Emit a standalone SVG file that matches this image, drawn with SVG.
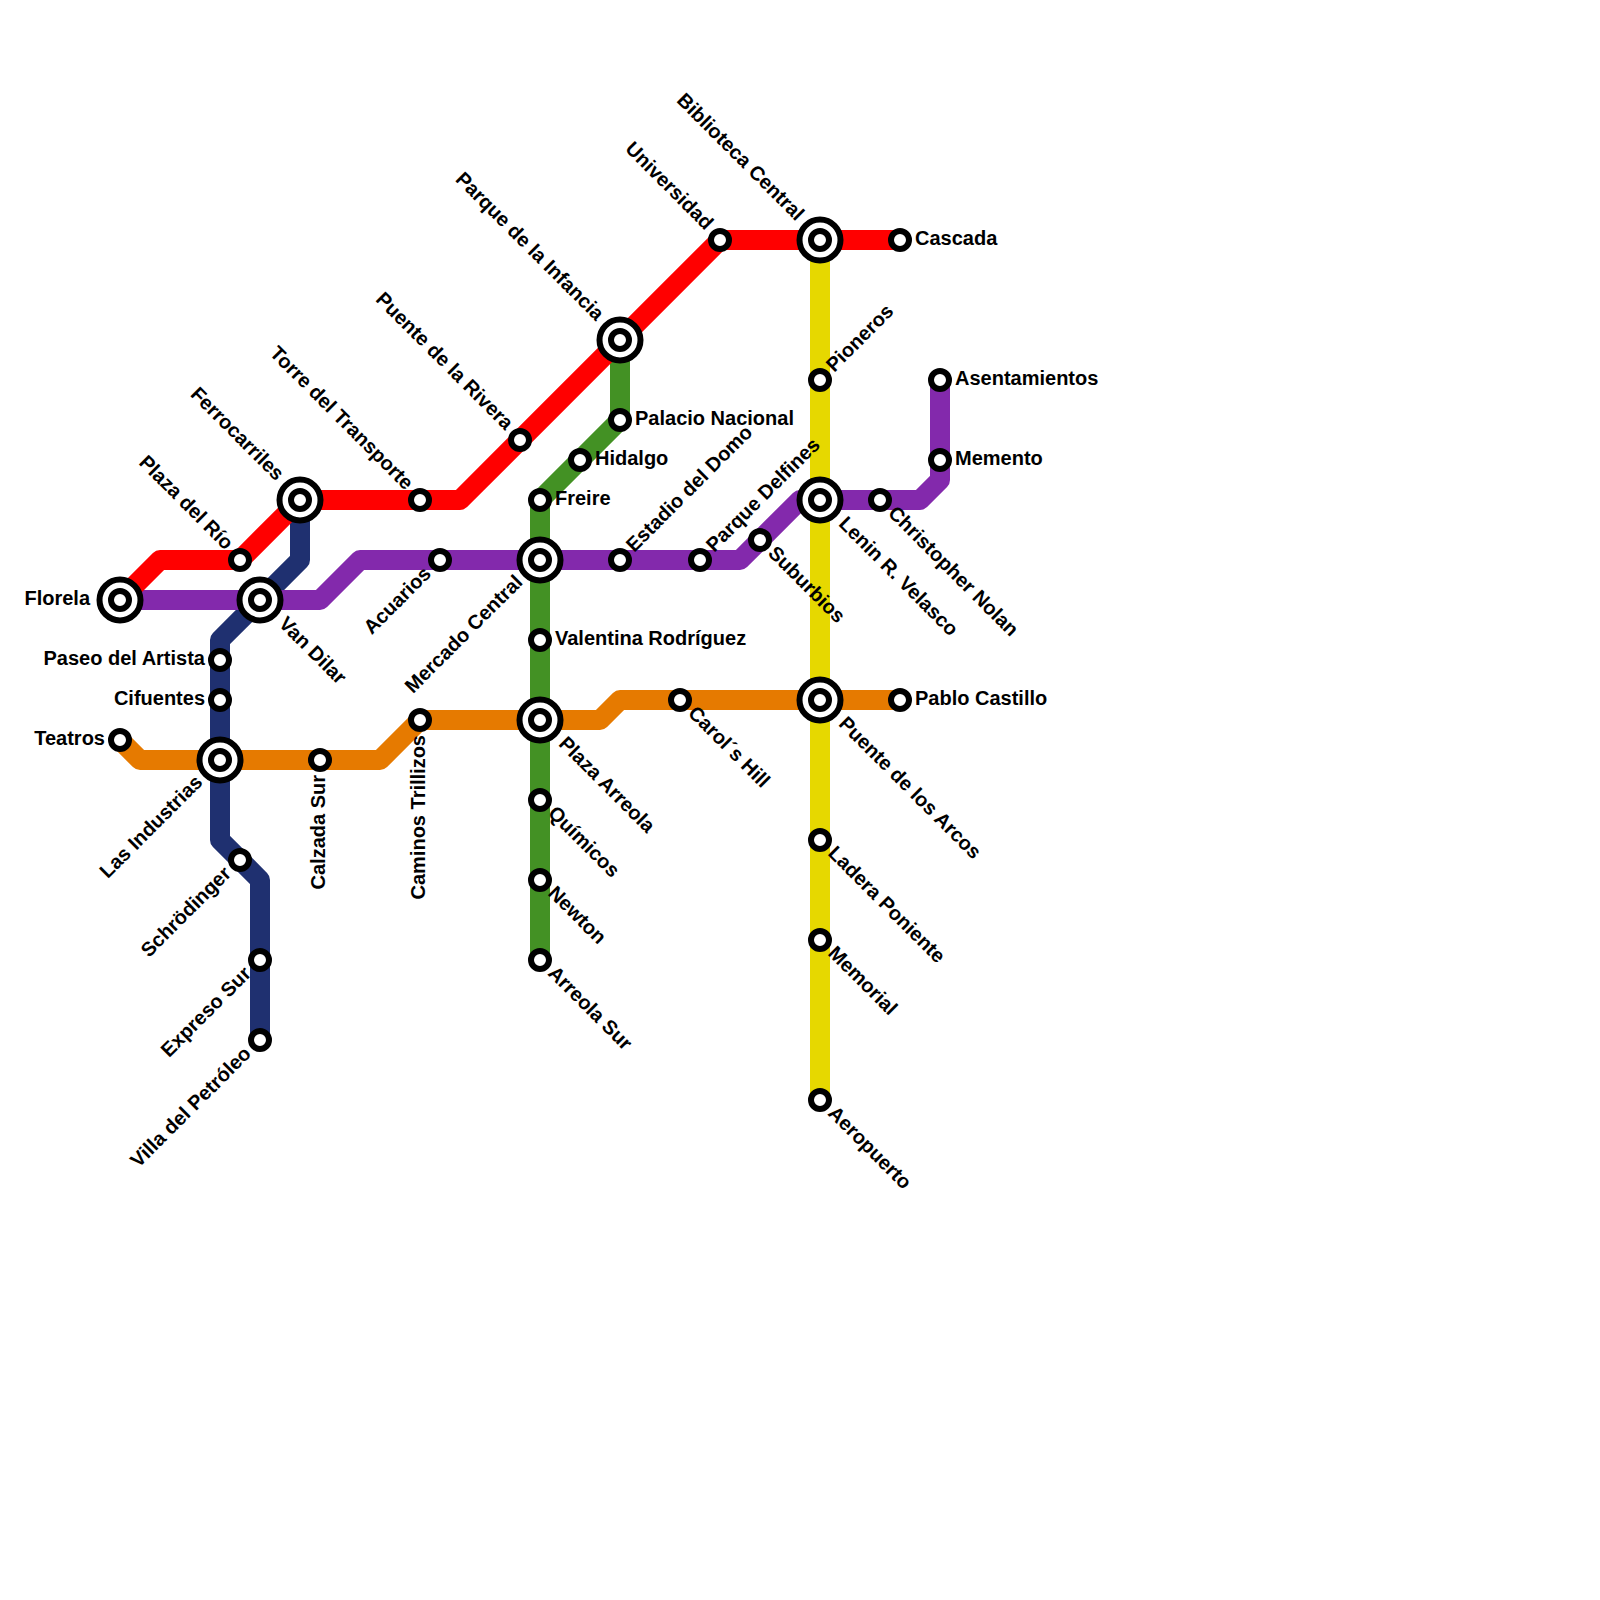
<svg xmlns="http://www.w3.org/2000/svg" width="1600" height="1600" viewBox="0 0 1600 1600">
<style>
.l{fill:none;stroke-width:20;stroke-linejoin:round;stroke-linecap:butt}
.s{fill:#fff;stroke:#000;stroke-width:6}
text{font-family:"Liberation Sans",Arial,sans-serif;font-weight:bold;font-size:20px;fill:#000}
.e{text-anchor:end}
</style>
<defs>
<g id="st"><circle class="s" r="9"/></g>
<g id="ix"><circle class="s" r="20.5"/><circle class="s" r="9"/></g>
</defs>
<rect width="1600" height="1600" fill="#fff"/>
<g id="connectors">
<path class="l" stroke="#e6d800" d="M820 240V1100"/>
<path class="l" stroke="#e67a00" d="M120 740L140 760H380L420 720H600L620 700H900"/>
<path class="l" stroke="#1f3070" d="M300 500V560L220 640V840L260 880V1040"/>
<path class="l" stroke="#8329ac" d="M120 600H320L360 560H740L800 500H920L940 480V380"/>
<path class="l" stroke="#439124" d="M620 340V420L540 500V960"/>
<path class="l" stroke="#ff0000" d="M120 600L160 560H240L300 500H460L720 240H900"/>
</g>
<g id="florela"><use href="#ix" x="120" y="600"/><text class="e" x="90" y="605">Florela</text></g>
<g id="plaza-del-rio"><use href="#st" x="240" y="560"/><text class="e" transform="translate(240 560) rotate(45)" x="-17" y="4">Plaza del Río</text></g>
<g id="ferrocarriles"><use href="#ix" x="300" y="500"/><text class="e" transform="translate(300 500) rotate(45)" x="-30" y="4">Ferrocarriles</text></g>
<g id="torre"><use href="#st" x="420" y="500"/><text class="e" transform="translate(420 500) rotate(45)" x="-17" y="4">Torre del Transporte</text></g>
<g id="puente-rivera"><use href="#st" x="520" y="440"/><text class="e" transform="translate(520 440) rotate(45)" x="-17" y="4">Puente de la Rivera</text></g>
<g id="parque-infancia"><use href="#ix" x="620" y="340"/><text class="e" transform="translate(620 340) rotate(45)" x="-30" y="4">Parque de la Infancia</text></g>
<g id="universidad"><use href="#st" x="720" y="240"/><text class="e" transform="translate(720 240) rotate(45)" x="-17" y="4">Universidad</text></g>
<g id="biblioteca"><use href="#ix" x="820" y="240"/><text class="e" transform="translate(820 240) rotate(45)" x="-30" y="4">Biblioteca Central</text></g>
<g id="cascada"><use href="#st" x="900" y="240"/><text x="915" y="245">Cascada</text></g>
<g id="acuarios"><use href="#st" x="440" y="560"/><text class="e" transform="translate(440 560) rotate(-45)" x="-16" y="5">Acuarios</text></g>
<g id="mercado"><use href="#ix" x="540" y="560"/><text class="e" transform="translate(540 560) rotate(-45)" x="-28" y="5">Mercado Central</text></g>
<g id="estadio"><use href="#st" x="620" y="560"/><text transform="translate(620 560) rotate(-45)" x="15" y="5">Estadio del Domo</text></g>
<g id="parque-delfines"><use href="#st" x="700" y="560"/><text transform="translate(700 560) rotate(-45)" x="15" y="5">Parque Delfines</text></g>
<g id="suburbios"><use href="#st" x="760" y="540"/><text transform="translate(760 540) rotate(45)" x="15" y="5">Suburbios</text></g>
<g id="lenin"><use href="#ix" x="820" y="500"/><text transform="translate(820 500) rotate(45)" x="30" y="5">Lenin R. Velasco</text></g>
<g id="nolan"><use href="#st" x="880" y="500"/><text transform="translate(880 500) rotate(45)" x="15" y="5">Christopher Nolan</text></g>
<g id="memento"><use href="#st" x="940" y="460"/><text x="955" y="465">Memento</text></g>
<g id="asentamientos"><use href="#st" x="940" y="380"/><text x="955" y="385">Asentamientos</text></g>
<g id="pioneros"><use href="#st" x="820" y="380"/><text transform="translate(820 380) rotate(-45)" x="15" y="5">Pioneros</text></g>
<g id="palacio"><use href="#st" x="620" y="420"/><text x="635" y="425">Palacio Nacional</text></g>
<g id="hidalgo"><use href="#st" x="580" y="460"/><text x="595" y="465">Hidalgo</text></g>
<g id="freire"><use href="#st" x="540" y="500"/><text x="555" y="505">Freire</text></g>
<g id="valentina"><use href="#st" x="540" y="640"/><text x="555" y="645">Valentina Rodríguez</text></g>
<g id="plaza-arreola"><use href="#ix" x="540" y="720"/><text transform="translate(540 720) rotate(45)" x="30" y="5">Plaza Arreola</text></g>
<g id="quimicos"><use href="#st" x="540" y="800"/><text transform="translate(540 800) rotate(45)" x="15" y="5">Químicos</text></g>
<g id="newton"><use href="#st" x="540" y="880"/><text transform="translate(540 880) rotate(45)" x="15" y="5">Newton</text></g>
<g id="arreola-sur"><use href="#st" x="540" y="960"/><text transform="translate(540 960) rotate(45)" x="15" y="5">Arreola Sur</text></g>
<g id="carols"><use href="#st" x="680" y="700"/><text transform="translate(680 700) rotate(45)" x="15" y="5">Carol´s Hill</text></g>
<g id="puente-arcos"><use href="#ix" x="820" y="700"/><text transform="translate(820 700) rotate(45)" x="30" y="5">Puente de los Arcos</text></g>
<g id="pablo"><use href="#st" x="900" y="700"/><text x="915" y="705">Pablo Castillo</text></g>
<g id="ladera"><use href="#st" x="820" y="840"/><text transform="translate(820 840) rotate(45)" x="15" y="5">Ladera Poniente</text></g>
<g id="memorial"><use href="#st" x="820" y="940"/><text transform="translate(820 940) rotate(45)" x="15" y="5">Memorial</text></g>
<g id="aeropuerto"><use href="#st" x="820" y="1100"/><text transform="translate(820 1100) rotate(45)" x="15" y="5">Aeropuerto</text></g>
<g id="van-dilar"><use href="#ix" x="260" y="600"/><text transform="translate(260 600) rotate(45)" x="30" y="5">Van Dilar</text></g>
<g id="paseo"><use href="#st" x="220" y="660"/><text class="e" x="205" y="665">Paseo del Artista</text></g>
<g id="cifuentes"><use href="#st" x="220" y="700"/><text class="e" x="205" y="705">Cifuentes</text></g>
<g id="teatros"><use href="#st" x="120" y="740"/><text class="e" x="105" y="745">Teatros</text></g>
<g id="industrias"><use href="#ix" x="220" y="760"/><text class="e" transform="translate(220 760) rotate(-45)" x="-28" y="5">Las Industrias</text></g>
<g id="calzada"><use href="#st" x="320" y="760"/><text class="e" transform="translate(320 760) rotate(-90)" x="-15" y="5">Calzada Sur</text></g>
<g id="caminos"><use href="#st" x="420" y="720"/><text class="e" transform="translate(420 720) rotate(-90)" x="-15" y="5">Caminos Trillizos</text></g>
<g id="schrodinger"><use href="#st" x="240" y="860"/><text class="e" transform="translate(240 860) rotate(-45)" x="-16" y="5">Schrödinger</text></g>
<g id="expreso"><use href="#st" x="260" y="960"/><text class="e" transform="translate(260 960) rotate(-45)" x="-16" y="5">Expreso Sur</text></g>
<g id="villa"><use href="#st" x="260" y="1040"/><text class="e" transform="translate(260 1040) rotate(-45)" x="-16" y="5">Villa del Petróleo</text></g>
</svg>
